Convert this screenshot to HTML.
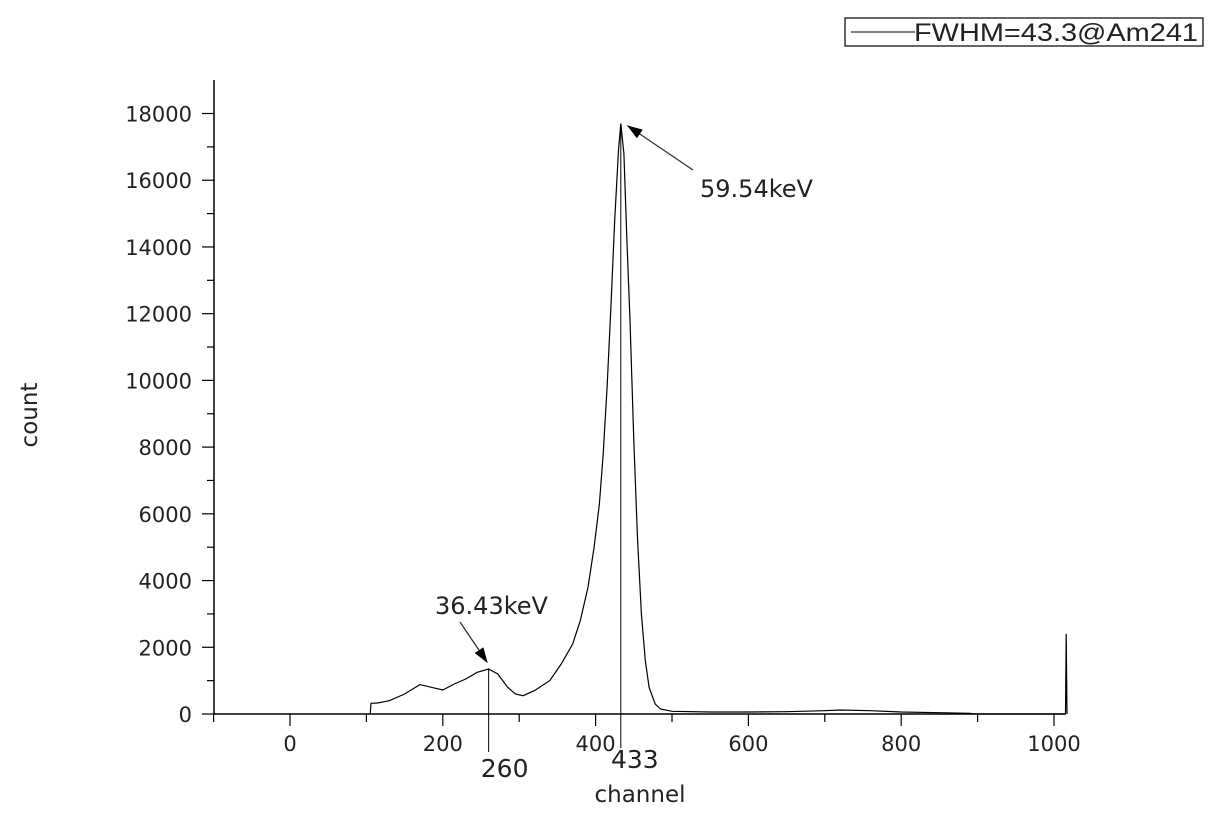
<!DOCTYPE html>
<html><head><meta charset="utf-8"><style>
body{margin:0;background:#fff}
svg text{font-family:"DejaVu Sans","Liberation Sans",sans-serif;fill:#222}
</style></head><body>
<svg width="1221" height="810" xmlns="http://www.w3.org/2000/svg">
<g>
<rect x="845" y="18" width="358" height="28" fill="#fff" stroke="#000" stroke-width="1.2"/>
<line x1="851" y1="32" x2="915" y2="32" stroke="#000"/>
<text x="914" y="41" font-size="25" textLength="284" lengthAdjust="spacingAndGlyphs" style="font-family:'Liberation Sans',sans-serif" fill="#000">FWHM=43.3@Am241</text>
</g>
<g id="axes"></g>
<path id="series" fill="none" stroke="#000" stroke-width="1.2"/>
<g id="annot"></g>
<text x="37" y="415" font-size="23" transform="rotate(-90 37 415)" text-anchor="middle">count</text>
<text x="640" y="802" font-size="23" text-anchor="middle">channel</text>
</svg>
<script>
const xTicks=[0,200,400,600,800,1000];
const yTicks=[0,2000,4000,6000,8000,10000,12000,14000,16000,18000];
const channels=[105,106,115,130,150,170,185,200,215,230,245,260,272,285,295,305,320,340,355,370,380,390,398,405,410,415,420,425,430,433,437,441,445,450,455,460,465,470,478,485,500,550,600,650,700,720,760,800,850,890,895,1000,1015,1016,1017];
const counts=[0,320,330,400,600,880,800,720,900,1050,1250,1350,1200,800,600,550,700,1000,1500,2100,2800,3800,5000,6300,7800,9800,12200,14800,16900,17700,16800,14200,11800,8200,5200,3000,1600,800,300,150,80,60,60,70,100,120,100,60,40,20,0,0,0,2400,0];
const markers=[260,433];
const NS="http://www.w3.org/2000/svg";
const X=v=>290+(v-0)*0.764, Y=v=>714-v*(600.5/18000);
const axes=document.getElementById('axes');
function el(t,a,p){const e=document.createElementNS(NS,t);for(const k in a)e.setAttribute(k,a[k]);(p||axes).appendChild(e);return e;}
const ya=el('line',{x1:214,y1:80,x2:214,y2:714,stroke:'#000','stroke-width':1.5});


const xa=el('line',{x1:214,y1:714,x2:1065,y2:714,stroke:'#000','stroke-width':1.5});


for(let v=-100;v<=1000;v+=100){el('line',{x1:X(v),y1:714,x2:X(v),y2:v%200===0?726:722,stroke:'#000','stroke-width':1.2});}
xTicks.forEach(v=>{const t=el('text',{x:X(v),y:751,'font-size':21,'text-anchor':'middle',fill:'#333'});t.textContent=v;

});
for(let v=0;v<=18000;v+=1000){el('line',{x1:v%2000===0?202:207,y1:Y(v),x2:214,y2:Y(v),stroke:'#000','stroke-width':1.2});}
yTicks.forEach(v=>{const t=el('text',{x:192,y:Y(v)+8,'font-size':21,'text-anchor':'end',fill:'#333'});t.textContent=v;

});
document.getElementById('series').setAttribute('d',channels.map((c,i)=>(i?'L':'M')+X(c).toFixed(1)+','+Y(counts[i]).toFixed(1)).join(''));
const an=document.getElementById('annot');
markers.forEach(m=>{const l=el('line',{x1:X(m),y1:Y(counts[channels.indexOf(m)]),x2:X(m),y2:m===260?752:748,stroke:'#000'},an);


const t=el('text',{x:X(m)+(m===260?16:14),y:m===260?777:768,'font-size':25,'text-anchor':'middle'},an);t.textContent=m;

});
el('defs',{},an).innerHTML='<marker id="ah" markerWidth="12" markerHeight="8" refX="11" refY="4" orient="auto"><path d="M0,0L12,4L0,8z" fill="#000"/></marker>';
const a1=el('line',{x1:693,y1:170,x2:628,y2:126,stroke:'#333','stroke-width':1.3,'marker-end':'url(#ah)'},an);


const t1=el('text',{x:700,y:197,'font-size':24},an);t1.textContent='59.54keV';


const a2=el('line',{x1:460,y1:622,x2:487,y2:662,stroke:'#333','stroke-width':1.3,'marker-end':'url(#ah)'},an);


const t2=el('text',{x:435,y:614,'font-size':24},an);t2.textContent='36.43keV';


</script>
</body></html>
